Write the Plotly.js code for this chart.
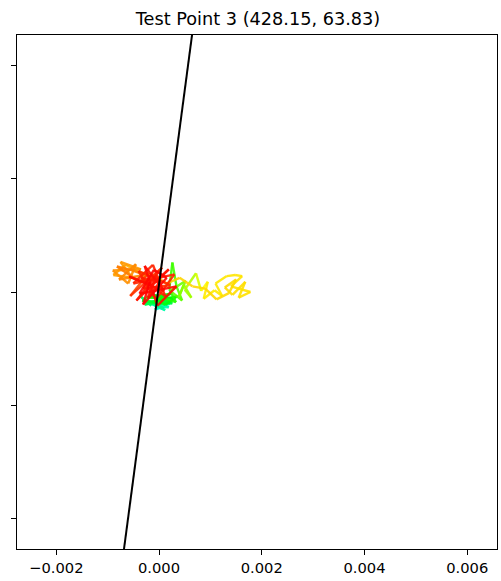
<!DOCTYPE html>
<html>
<head>
<meta charset="utf-8">
<script src="https://cdn.plot.ly/plotly-3.0.1.min.js"></script>
<style>html,body{margin:0;padding:0;background:#fff;}#chart{width:501px;height:581px;}</style>
</head>
<body>
<div id="chart"></div>
<script>
// Trajectory of the test point (data units)
const trajX = [
  -0.5e-4, 0.8e-4, -1.2e-4, 0.3e-4, 1.5e-4, -0.8e-4, 0.6e-4, 1.9e-4, -0.3e-4, 1.2e-4, -1.6e-4, 0.4e-4, 2.2e-4, -1.0e-4, 0.9e-4, -2.0e-4,
  -3.0e-4, -1.5e-4, -3.8e-4, -2.2e-4, 0.5e-4, -2.8e-4, 1.8e-4, -0.6e-4, 2.6e-4, -3.3e-4, 0.2e-4, 3.1e-4, -1.8e-4, 1.2e-4, 3.6e-4, -0.9e-4, 2.3e-4, -2.5e-4, 1.0e-4, 3.3e-4,
  2.0e-4, 2.6e-4, 3.4e-4, 4.5e-4, 2.2e-4, 5.2e-4, 3.9e-4, 4.8e-4, 6.3e-4, 5.0e-4,
  7.2e-4, 8.2e-4, 9.5e-4, 8.7e-4, 10.8e-4, 12.3e-4, 11.0e-4, 13.2e-4, 14.8e-4, 16.2e-4, 14.0e-4, 17.8e-4, 15.5e-4, 16.8e-4, 14.3e-4, 12.8e-4, 15.0e-4, 13.6e-4, 11.2e-4, 9.0e-4,
  6.5e-4, 4.0e-4, 1.5e-4, -1.0e-4,
  -4.0e-4, -6.5e-4, -8.9e-4, -5.2e-4, -7.5e-4, -3.5e-4, -9.0e-4, -6.0e-4, -4.5e-4, -7.8e-4, -2.8e-4, -5.5e-4, -8.2e-4, -3.8e-4,
  -2.0e-4, -5.6e-4, 0.6e-4, -3.1e-4, 2.2e-4, -4.0e-4, -0.6e-4, 3.0e-4, -5.0e-4, -1.2e-4, 1.2e-4, -3.5e-4, 0.2e-4, -2.2e-4, -0.5e-4, -4.4e-4, 1.9e-4, -1.5e-4,
  -5.8e-4, 1.0e-4, -2.8e-4, -0.3e-4, 3.4e-4, -3.8e-4, -1.0e-4, 1.5e-4, -3.1e-4, -1.8e-4
];
const trajY = [
  -2.5e-4, -3.0e-4, -2.2e-4, -2.8e-4, -2.4e-4, -3.1e-4, -1.9e-4, -2.7e-4, -2.6e-4, -3.2e-4, -2.0e-4, -2.3e-4, -2.1e-4, -1.6e-4, -2.9e-4, -1.8e-4,
  -1.2e-4, -2.4e-4, -0.6e-4, -1.9e-4, -1.3e-4, -2.2e-4, -1.6e-4, -0.8e-4, -2.0e-4, -1.5e-4, -2.1e-4, -1.2e-4, -0.4e-4, -2.3e-4, -0.7e-4, -1.7e-4, -0.3e-4, -1.0e-4, -1.1e-4, -1.8e-4,
  0.5e-4, 5.2e-4, 1.0e-4, -1.5e-4, 0.2e-4, 2.0e-4, -0.8e-4, 1.3e-4, -1.0e-4, 0.4e-4,
  3.3e-4, 0.2e-4, 1.8e-4, -1.2e-4, 0.3e-4, -0.7e-4, 1.5e-4, 2.8e-4, 3.0e-4, 2.8e-4, 1.0e-4, 0.0e-4, -1.0e-4, 1.8e-4, -0.5e-4, 0.8e-4, 2.2e-4, -0.2e-4, -1.3e-4, 0.6e-4,
  1.0e-4, 2.5e-4, 1.5e-4, 3.0e-4,
  3.5e-4, 4.8e-4, 3.0e-4, 2.5e-4, 5.3e-4, 4.0e-4, 3.8e-4, 1.5e-4, 4.9e-4, 2.2e-4, 3.0e-4, 3.9e-4, 4.5e-4, 1.8e-4,
  3.4e-4, -0.7e-4, 4.3e-4, 0.6e-4, 1.2e-4, 3.7e-4, -1.3e-4, 3.1e-4, 1.5e-4, 4.8e-4, -0.7e-4, 2.5e-4, 1.8e-4, -1.0e-4, 3.0e-4, -1.5e-4, 4.0e-4, 1.2e-4,
  2.7e-4, 0.2e-4, 4.6e-4, -2.4e-4, 1.0e-4, -0.3e-4, 3.9e-4, 2.5e-4, -2.2e-4, 1.8e-4
];
// Decision boundary line
const boundaryX = [-0.000897, 0.000858];
const boundaryY = [-0.006, 0.006];
const xTicks = [-0.002, 0.000, 0.002, 0.004, 0.006];
const xTickLabels = ['\u22120.002', '0.000', '0.002', '0.004', '0.006'];
const yTicks = [-0.004, -0.002, 0.000, 0.002, 0.004];

// Colormap: cyan -> green -> yellow-green -> gold -> orange -> red (hue stops)
const cmapT   = [0.00, 0.14, 0.32, 0.41, 0.43, 0.60, 0.63, 0.645, 0.75, 0.77, 1.00];
const cmapHue = [175,  150,  110,  78,   56,   50,   44,   38,    29,   12,   0];
function segColor(t) {
  let h = cmapHue[cmapHue.length - 1];
  for (let k = 0; k < cmapT.length - 1; k++) {
    if (t >= cmapT[k] && t <= cmapT[k + 1]) {
      const f = (t - cmapT[k]) / (cmapT[k + 1] - cmapT[k]);
      h = cmapHue[k] + f * (cmapHue[k + 1] - cmapHue[k]);
      break;
    }
  }
  return 'hsl(' + h.toFixed(1) + ',100%,50%)';
}

const traces = [];
const n = trajX.length;
for (let i = 0; i < n - 1; i++) {
  traces.push({
    x: [trajX[i], trajX[i + 1]],
    y: [trajY[i], trajY[i + 1]],
    mode: 'lines',
    type: 'scatter',
    line: {color: segColor(i / (n - 2)), width: 2.4},
    opacity: 0.9,
    hoverinfo: 'skip',
    showlegend: false
  });
}
traces.push({
  x: boundaryX, y: boundaryY, mode: 'lines', type: 'scatter',
  line: {color: 'black', width: 2}, showlegend: false
});

const layout = {
  width: 501, height: 581,
  margin: {l: 17, r: 4, t: 35, b: 32},
  paper_bgcolor: 'white', plot_bgcolor: 'white',
  title: {text: 'Test Point 3 (428.15, 63.83)', x: 0.515, xanchor: 'center', y: 0.967, yanchor: 'middle',
          font: {family: 'DejaVu Sans', size: 17.7, color: 'black'}},
  font: {family: 'DejaVu Sans', size: 14.7, color: 'black'},
  xaxis: {
    range: [-0.002765, 0.00658], tickvals: xTicks, ticktext: xTickLabels,
    ticks: 'outside', ticklen: 5, tickwidth: 1, tickcolor: 'black',
    showline: true, linecolor: 'black', linewidth: 1, mirror: true,
    showgrid: false, zeroline: false, tickfont: {size: 14.7}
  },
  yaxis: {
    range: [-0.004529, 0.004529], tickvals: yTicks, showticklabels: false,
    ticks: 'outside', ticklen: 5, tickwidth: 1, tickcolor: 'black',
    showline: true, linecolor: 'black', linewidth: 1, mirror: true,
    showgrid: false, zeroline: false
  }
};
Plotly.newPlot('chart', traces, layout, {displayModeBar: false, staticPlot: true});
</script>
</body>
</html>
